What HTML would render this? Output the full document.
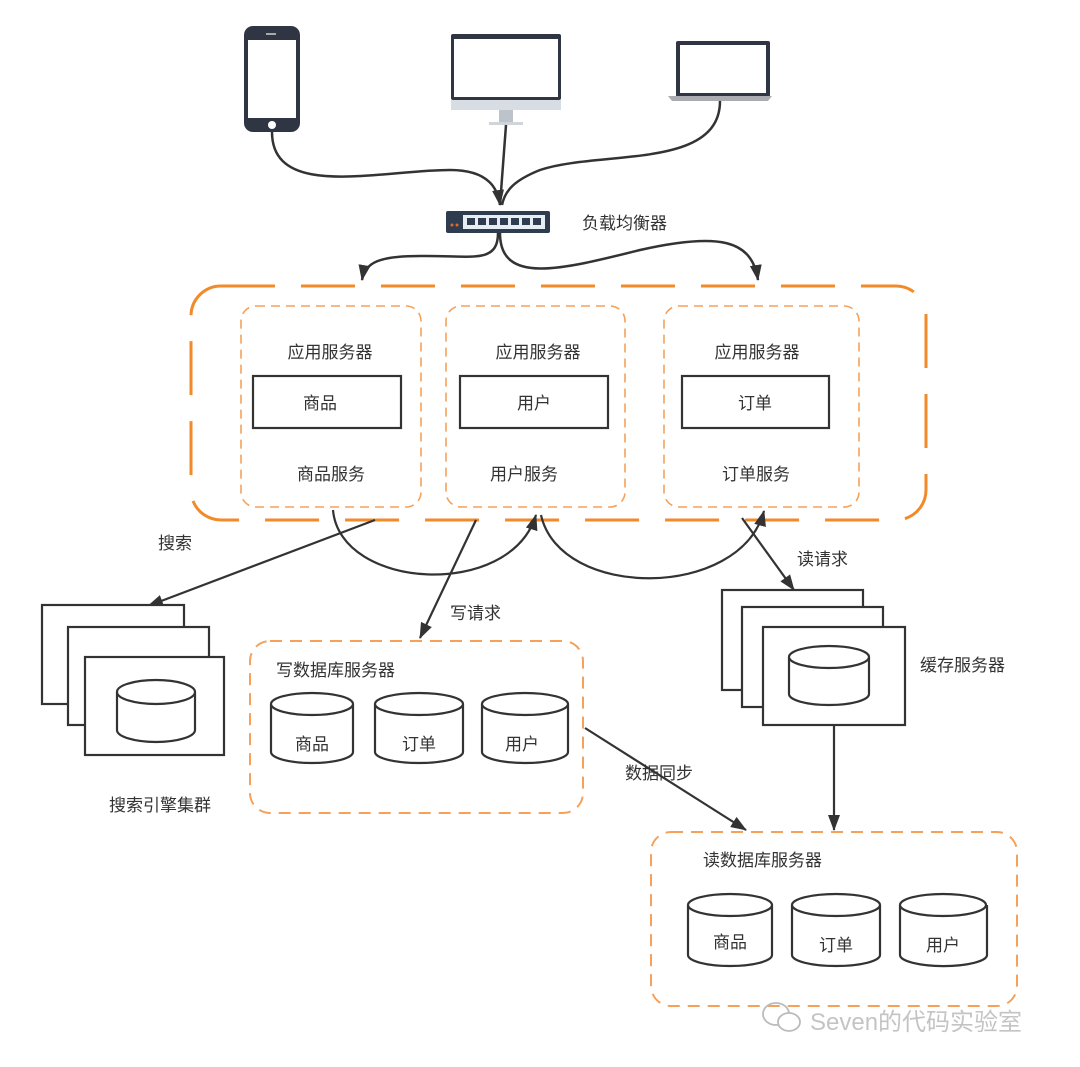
<!DOCTYPE html>
<html><head><meta charset="utf-8"><style>
html,body{margin:0;padding:0;background:#fff}
svg{display:block}
text{font-family:"Liberation Sans","Noto Sans CJK SC",sans-serif;fill:#333;font-size:17px}
</style></head><body>
<svg width="1080" height="1067" viewBox="0 0 1080 1067" xmlns="http://www.w3.org/2000/svg">
<defs>
<marker id="ar" markerWidth="10" markerHeight="10" refX="9" refY="5" orient="auto" markerUnits="userSpaceOnUse" viewBox="0 0 10 10">
<path d="M0,0 L10,5 L0,10 z" fill="#333"/></marker>
<marker id="arb" markerWidth="16" markerHeight="16" refX="15" refY="8" orient="auto" markerUnits="userSpaceOnUse" viewBox="0 0 16 16">
<path d="M0,2 L16,8 L0,14 z" fill="#333"/></marker>
</defs>

<!-- phone -->
<rect x="244" y="26" width="56" height="106" rx="9" fill="#2f3542"/>
<rect x="248" y="40" width="48" height="78" fill="#fff"/>
<circle cx="272" cy="125" r="4" fill="#fff"/>
<rect x="266" y="33" width="10" height="2" fill="#aaa"/>
<!-- monitor -->
<rect x="451" y="34" width="110" height="66" rx="2" fill="#2f3542"/>
<rect x="454" y="39" width="104" height="58" fill="#fff"/>
<rect x="451" y="100" width="110" height="10" fill="#d8dde3"/>
<rect x="499" y="110" width="14" height="12" fill="#bcc3ca"/>
<rect x="489" y="122" width="34" height="3" fill="#d0d5da"/>
<!-- laptop -->
<rect x="676" y="41" width="94" height="56" rx="2" fill="#2f3542"/>
<rect x="680" y="45" width="86" height="48" fill="#fff"/>
<path d="M668,96 L772,96 L768,101 L672,101 z" fill="#a9adb2"/>

<!-- input curves -->
<path d="M272,132 C272,200 380,170 450,170 C490,170 498,190 500,205" fill="none" stroke="#333" stroke-width="2.5" marker-end="url(#arb)"/>
<path d="M506,125 L500,205" fill="none" stroke="#333" stroke-width="2.5"/>
<path d="M720,101 C720,170 600,150 540,170 C515,180 505,190 502,205" fill="none" stroke="#333" stroke-width="2.5"/>

<!-- load balancer -->
<rect x="446" y="211" width="104" height="22" rx="2" fill="#2f3b4e"/>
<rect x="463" y="215" width="82" height="14" fill="#e6edf3"/>
<g fill="#2f3b4e">
<rect x="467" y="218" width="8" height="7"/><rect x="478" y="218" width="8" height="7"/><rect x="489" y="218" width="8" height="7"/><rect x="500" y="218" width="8" height="7"/><rect x="511" y="218" width="8" height="7"/><rect x="522" y="218" width="8" height="7"/><rect x="533" y="218" width="8" height="7"/>
</g>
<circle cx="452" cy="225" r="1.5" fill="#e06a2c"/><circle cx="457" cy="225" r="1.5" fill="#e06a2c"/>
<text x="582" y="229">负载均衡器</text>

<!-- LB out -->
<path d="M498,233 C498,265 470,255 420,256 C380,256 365,262 362,280" fill="none" stroke="#333" stroke-width="2.5" marker-end="url(#arb)"/>
<path d="M500,233 C500,285 560,270 640,250 C720,232 752,240 758,280" fill="none" stroke="#333" stroke-width="2.5" marker-end="url(#arb)"/>

<!-- big box -->
<rect x="191" y="286" width="735" height="234" rx="30" fill="none" stroke="#f28a2a" stroke-width="3" stroke-dasharray="54,26"/>

<!-- app servers -->
<g fill="none" stroke="#f5a15a" stroke-width="1.6" stroke-dasharray="9,6">
<rect x="241" y="306" width="180" height="201" rx="15"/>
<rect x="446" y="306" width="179" height="201" rx="15"/>
<rect x="664" y="306" width="195" height="201" rx="15"/>
</g>
<g fill="none" stroke="#333" stroke-width="2.2">
<rect x="253" y="376" width="148" height="52"/>
<rect x="460" y="376" width="148" height="52"/>
<rect x="682" y="376" width="147" height="52"/>
</g>
<g text-anchor="middle">
<text x="330" y="358">应用服务器</text><text x="538" y="358">应用服务器</text><text x="757" y="358">应用服务器</text>
<text x="320" y="409">商品</text><text x="534" y="409">用户</text><text x="755" y="409">订单</text>
<text x="331" y="480">商品服务</text><text x="524" y="480">用户服务</text><text x="756" y="480">订单服务</text>
</g>

<!-- inter-service curves -->
<path d="M333,510 C340,590 510,600 536,515" fill="none" stroke="#333" stroke-width="2.2" marker-end="url(#arb)"/>
<path d="M541,515 C560,600 740,600 764,511" fill="none" stroke="#333" stroke-width="2.2" marker-end="url(#arb)"/>

<!-- search -->
<line x1="375" y1="520" x2="148" y2="606" stroke="#333" stroke-width="2.2" marker-end="url(#arb)"/>
<text x="158" y="549">搜索</text>
<!-- write -->
<line x1="476" y1="520" x2="420" y2="638" stroke="#333" stroke-width="2.2" marker-end="url(#arb)"/>
<text x="450" y="619">写请求</text>
<!-- read -->
<line x1="742" y1="518" x2="794" y2="590" stroke="#333" stroke-width="2.2" marker-end="url(#arb)"/>
<text x="797" y="565">读请求</text>

<!-- search cluster -->
<g fill="#fff" stroke="#333" stroke-width="2.2">
<rect x="42" y="605" width="142" height="99"/>
<rect x="68" y="627" width="141" height="98"/>
<rect x="85" y="657" width="139" height="98"/>
<path d="M117,692 L117,730 A39,12 0 0 0 195,730 L195,692"/>
<ellipse cx="156" cy="692" rx="39" ry="12"/>
</g>
<text x="160" y="811" text-anchor="middle">搜索引擎集群</text>

<!-- write db -->
<rect x="250" y="641" width="333" height="172" rx="20" fill="none" stroke="#f5a15a" stroke-width="2" stroke-dasharray="12,8"/>
<text x="276" y="676">写数据库服务器</text>
<g fill="#fff" stroke="#333" stroke-width="2.2">
<path d="M271,704 L271,752 A41,11 0 0 0 353,752 L353,704"/><ellipse cx="312" cy="704" rx="41" ry="11"/>
<path d="M375,704 L375,752 A44,11 0 0 0 463,752 L463,704"/><ellipse cx="419" cy="704" rx="44" ry="11"/>
<path d="M482,704 L482,752 A43,11 0 0 0 568,752 L568,704"/><ellipse cx="525" cy="704" rx="43" ry="11"/>
</g>
<g text-anchor="middle"><text x="312" y="750">商品</text><text x="419" y="750">订单</text><text x="522" y="750">用户</text></g>

<!-- cache -->
<g fill="#fff" stroke="#333" stroke-width="2.2">
<rect x="722" y="590" width="141" height="100"/>
<rect x="742" y="607" width="141" height="100"/>
<rect x="763" y="627" width="142" height="98"/>
<path d="M789,657 L789,694 A40,11 0 0 0 869,694 L869,657"/><ellipse cx="829" cy="657" rx="40" ry="11"/>
</g>
<text x="920" y="671">缓存服务器</text>
<line x1="834" y1="725" x2="834" y2="830" stroke="#333" stroke-width="2.2" marker-end="url(#arb)"/>

<!-- sync -->
<line x1="585" y1="728" x2="746" y2="830" stroke="#333" stroke-width="2.2" marker-end="url(#arb)"/>
<text x="625" y="779">数据同步</text>

<!-- read db -->
<rect x="651" y="832" width="366" height="174" rx="20" fill="none" stroke="#f5a15a" stroke-width="2" stroke-dasharray="12,8"/>
<text x="703" y="866">读数据库服务器</text>
<g fill="#fff" stroke="#333" stroke-width="2.2">
<path d="M688,905 L688,955 A42,11 0 0 0 772,955 L772,905"/><ellipse cx="730" cy="905" rx="42" ry="11"/>
<path d="M792,905 L792,955 A44,11 0 0 0 880,955 L880,905"/><ellipse cx="836" cy="905" rx="44" ry="11"/>
<path d="M900,905 L900,955 A43,11 0 0 0 987,955 L987,905"/><ellipse cx="943" cy="905" rx="43" ry="11"/>
</g>
<g text-anchor="middle"><text x="730" y="948">商品</text><text x="836" y="951">订单</text><text x="943" y="951">用户</text></g>

<!-- watermark -->
<g fill="none" stroke="#bbb" stroke-width="1.8">
<ellipse cx="776" cy="1014" rx="13" ry="11"/>
<ellipse cx="789" cy="1022" rx="11" ry="9" fill="#fff"/>
</g>
<text x="810" y="1030" style="font-size:24px;fill:#c4c4c4">Seven的代码实验室</text>
</svg>
</body></html>
